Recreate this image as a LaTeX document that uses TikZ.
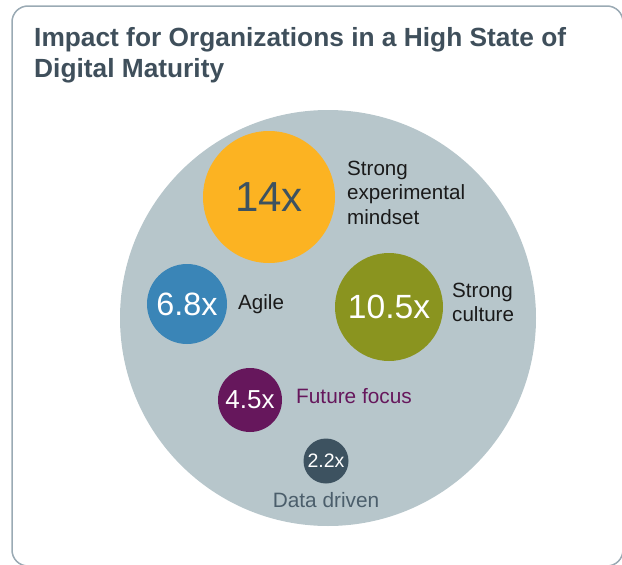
\documentclass[tikz,border=0pt]{standalone}
\usepackage{fontspec}
\setmainfont{Liberation Sans}
\definecolor{framec}{HTML}{9AAAB4}
\definecolor{bigc}{HTML}{B7C6CB}
\definecolor{yel}{HTML}{FCB322}
\definecolor{blu}{HTML}{3A85B7}
\definecolor{oli}{HTML}{8A941F}
\definecolor{pur}{HTML}{66175C}
\definecolor{drk}{HTML}{3D5260}
\definecolor{titlec}{HTML}{3F4F5B}
\definecolor{labc}{HTML}{1A1A1A}
\definecolor{ddc}{HTML}{4B5E6B}
\begin{document}
\begin{tikzpicture}[x=1pt,y=-1pt,
  bubble/.style={circle,inner sep=0pt},
  num/.style={inner sep=0pt,anchor=center},
  lab/.style={inner sep=0pt,anchor=base west,text=labc,font=\fontsize{20.6}{24.3}\selectfont,align=left}]
\useasboundingbox (0,0) rectangle (622,565);
\draw[framec,line width=1.5pt,rounded corners=16pt] (12,6) rectangle (623,566);
\node[inner sep=0pt,anchor=base west,text=titlec,font=\bfseries\fontsize{26.3}{30.6}\selectfont,align=left] (title) at (34,77.3) {Impact for Organizations in a High State of\\Digital Maturity};
\node[bubble,fill=bigc,minimum size=416pt] (big) at (328,318) {};
\node[bubble,fill=yel,minimum size=132pt] (c14) at (269,197) {};
\node[num,text=drk,font=\fontsize{42}{42}\selectfont] (t14) at (c14) {14x};
\node[bubble,fill=blu,minimum size=80pt] (c68) at (187,304) {};
\node[num,text=white,font=\fontsize{32.3}{32}\selectfont] (t68) at (c68) {6.8x};
\node[bubble,fill=oli,minimum size=108pt] (c105) at (389,307) {};
\node[num,text=white,font=\fontsize{33.6}{35}\selectfont] (t105) at (c105) {10.5x};
\node[bubble,fill=pur,minimum size=64pt] (c45) at (250,400) {};
\node[num,text=white,font=\fontsize{26}{26}\selectfont] (t45) at (c45) {4.5x};
\node[bubble,fill=drk,minimum size=45pt] (c22) at (326,461) {};
\node[num,text=white,font=\fontsize{19.5}{19.5}\selectfont] (t22) at (c22) {2.2x};
\node[lab] (l14) at (347,224) {Strong\\experimental\\mindset};
\node[lab] (l68) at (238,309) {Agile};
\node[lab,font=\fontsize{20.6}{24}\selectfont] (l105) at (452,321) {Strong\\culture};
\node[lab,text=pur,font=\fontsize{20.8}{24}\selectfont] (l45) at (296,403) {Future focus};
\node[inner sep=0pt,anchor=base,text=ddc,font=\fontsize{20.8}{24}\selectfont] (l22) at (326,507) {Data driven};
\end{tikzpicture}
\end{document}
